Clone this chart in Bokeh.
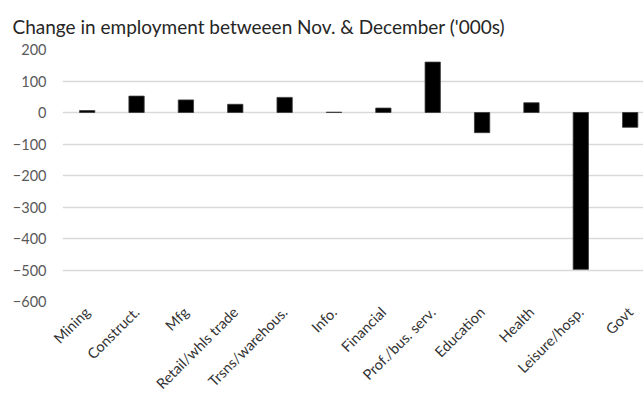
import math
from bokeh.plotting import figure
from bokeh.models import Range1d, FixedTicker, ColumnDataSource
from bokeh.embed import file_html
from bokeh.resources import INLINE

# ---- data ----
categories = ["Mining", "Construct.", "Mfg", "Retail/whls trade", "Trsns/warehous.",
              "Info.", "Financial", "Prof./bus. serv.", "Education", "Health",
              "Leisure/hosp.", "Govt"]
changes = [6, 52, 40, 26, 48, 1, 14, 160, -64, 31, -498, -47]
y_ticks = [-600, -500, -400, -300, -200, -100, 0, 100, 200]
title_text = "Change in employment betweeen Nov. & December ('000s)"

positions = list(range(len(categories)))
src = ColumnDataSource(dict(x=positions, top=changes, cat=categories))

p = figure(width=643, height=401, output_backend="svg", toolbar_location=None,
           x_range=Range1d(-0.5, 11.27), y_range=Range1d(min(y_ticks), max(y_ticks)),
           min_border_left=62, min_border_right=0, min_border_top=49, min_border_bottom=97,
           title=title_text)

p.vbar(x="x", top="top", bottom=0, width=0.31, source=src,
       fill_color="black", line_color="#3a3a3a", line_width=0.8)

p.outline_line_color = None
p.background_fill_color = "white"
p.border_fill_color = "white"

p.title.text_font = "Lato"
p.title.text_font_size = "19px"
p.title.text_font_style = "normal"
p.title.text_color = "#262626"
p.title.standoff = 24
p.title.offset = -50

# y axis
p.yaxis.ticker = FixedTicker(ticks=y_ticks)
p.yaxis.axis_line_color = None
p.yaxis.major_tick_line_color = None
p.yaxis.minor_tick_line_color = None
p.yaxis.major_tick_in = 0
p.yaxis.major_tick_out = 0
p.yaxis.major_label_standoff = 16
p.yaxis.major_label_text_font = "Lato"
p.yaxis.major_label_text_font_size = "14.5px"
p.yaxis.major_label_text_color = "#595959"

p.ygrid.ticker = FixedTicker(ticks=y_ticks)
p.ygrid.grid_line_color = "#d9d9d9"
p.ygrid.grid_line_width = 1.3
p.xgrid.grid_line_color = None

# x axis
p.xaxis.ticker = FixedTicker(ticks=positions)
p.xaxis.major_label_overrides = {i: c for i, c in zip(positions, categories)}
p.xaxis.major_label_orientation = math.pi / 4
p.xaxis.axis_line_color = None
p.xaxis.major_tick_line_color = None
p.xaxis.minor_tick_line_color = None
p.xaxis.major_tick_in = 0
p.xaxis.major_tick_out = 0
p.xaxis.major_label_standoff = 8
p.xaxis.major_label_text_font = "Lato"
p.xaxis.major_label_text_font_size = "14.5px"
p.xaxis.major_label_text_color = "#333333"

open("out.html", "w").write(file_html(p, INLINE))
